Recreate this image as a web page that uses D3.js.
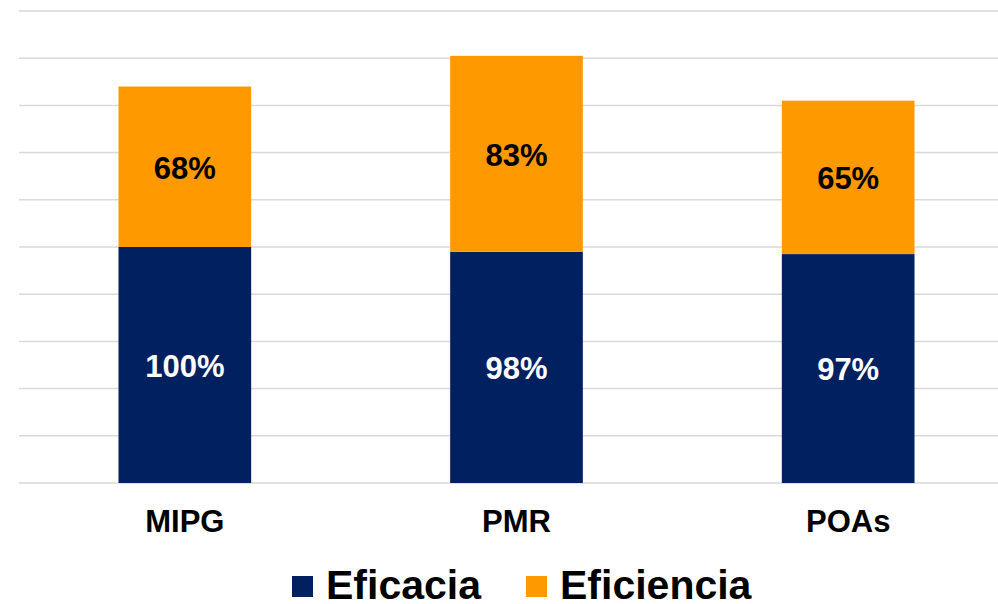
<!DOCTYPE html>
<html>
<head>
<meta charset="utf-8">
<script src="https://cdn.jsdelivr.net/npm/d3@7"></script>
<style>
  body { margin: 0; background: #fff; }
  svg { display: block; font-family: Arial, "Liberation Sans", sans-serif; }
</style>
</head>
<body>
<div id="viz"></div>
<script>
const categories = ['MIPG', 'PMR', 'POAs'];
const eficacia = [100, 98, 97];
const eficiencia = [68, 83, 65];
const yTicks = [0, 20, 40, 60, 80, 100, 120, 140, 160, 180, 200];

const width = 998;
const height = 604;
const groups = [
  { key: 'eficacia', label: 'Eficacia', color: '#002060', text: '#fff' },
  { key: 'eficiencia', label: 'Eficiencia', color: '#FF9900', text: '#000' },
];

// build rows for the stack
const data = categories.map((c, i) => ({ cat: c, eficacia: eficacia[i], eficiencia: eficiencia[i] }));

const scaleX = d3.scaleBand()
  .domain(categories)
  .range([19, 1014])
  .paddingInner(0.6)
  .paddingOuter(0.3);

const scaleY = d3.scaleLinear()
  .domain([0, 200])
  .range([483, 11]);

const svg = d3.select('#viz')
  .append('svg')
    .attr('width', width)
    .attr('height', height);

// gridlines
svg.append('g')
  .selectAll('line')
  .data(yTicks)
  .join('line')
    .attr('x1', 19)
    .attr('x2', width)
    .attr('y1', d => scaleY(d))
    .attr('y2', d => scaleY(d))
    .attr('stroke', '#d9d9d9')
    .attr('stroke-width', 1.5);

const series = d3.stack().keys(groups.map(g => g.key))(data);

const layer = svg.append('g')
  .selectAll('g')
  .data(series)
  .join('g')
    .attr('fill', (d, i) => groups[i].color);

layer.selectAll('rect')
  .data(d => d)
  .join('rect')
    .attr('x', d => scaleX(d.data.cat))
    .attr('width', scaleX.bandwidth())
    .attr('y', d => scaleY(d[1]))
    .attr('height', d => scaleY(d[0]) - scaleY(d[1]));

// value labels
series.forEach((s, i) => {
  svg.append('g')
    .selectAll('text')
    .data(s)
    .join('text')
      .attr('x', d => scaleX(d.data.cat) + scaleX.bandwidth() / 2)
      .attr('y', d => (scaleY(d[0]) + scaleY(d[1])) / 2)
      .attr('dy', '0.38em')
      .attr('text-anchor', 'middle')
      .style('font-size', '31px')
      .style('font-weight', 700)
      .attr('fill', groups[i].text)
      .text(d => `${d[1] - d[0]}%`);
});

// category axis
const axisBottom = d3.axisBottom(scaleX).tickSize(0).tickPadding(0);
const xAxis = svg.append('g')
  .attr('transform', `translate(0,${scaleY(0)})`)
  .call(axisBottom);
xAxis.select('.domain').remove();
xAxis.selectAll('text')
  .attr('y', 49)
  .attr('dy', 0)
  .style('font-family', 'Arial, "Liberation Sans", sans-serif')
  .style('font-size', '31px')
  .style('font-weight', 700)
  .attr('fill', '#000');

// legend
const legendX = [292, 526];
const legend = svg.append('g')
  .selectAll('g')
  .data(groups)
  .join('g')
    .attr('transform', (d, i) => `translate(${legendX[i]},576)`);
legend.append('rect')
  .attr('width', 21)
  .attr('height', 21)
  .attr('fill', d => d.color);
legend.append('text')
  .attr('x', 34)
  .attr('y', 23)
  .style('font-size', '41px')
  .style('font-weight', 700)
  .attr('fill', '#000')
  .text(d => d.label);
</script>
</body>
</html>
